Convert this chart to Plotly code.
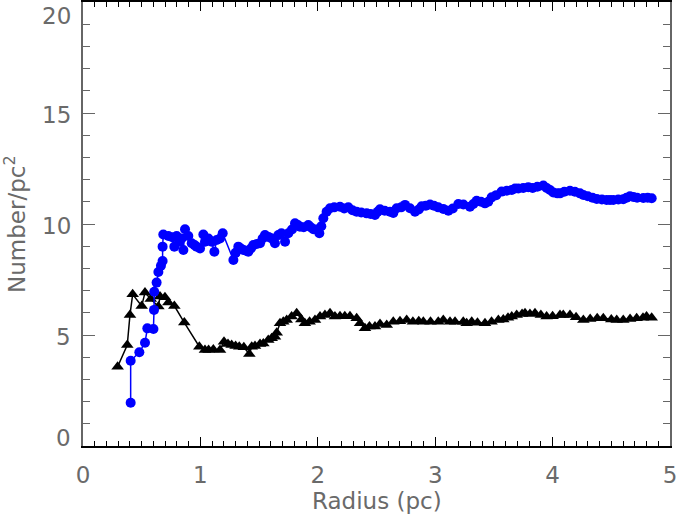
import plotly.graph_objects as go

# blue series (circles): radius in pc, number per pc^2
blue_r = [0.406, 0.406, 0.48, 0.528, 0.548, 0.600, 0.605, 0.607, 0.627, 0.642,
          0.664, 0.678, 0.678, 0.684, 0.727, 0.760, 0.778, 0.798, 0.818, 0.840,
          0.855, 0.869, 0.897, 0.926, 0.950, 0.968, 0.997, 1.025, 1.039, 1.068,
          1.096, 1.119, 1.139, 1.167, 1.190, 1.281, 1.300, 1.323, 1.345, 1.366,
          1.390, 1.408, 1.430, 1.451, 1.480, 1.508, 1.530, 1.550, 1.580, 1.607,
          1.635, 1.664, 1.690, 1.721, 1.749, 1.780, 1.806, 1.830, 1.848, 1.880,
          1.919, 1.940, 1.962, 1.990, 2.013, 2.030, 2.047, 2.075, 2.104, 2.140,
          2.189, 2.225, 2.260, 2.295, 2.331, 2.370, 2.416, 2.450, 2.487, 2.510,
          2.530, 2.570, 2.615, 2.643, 2.672, 2.710, 2.743, 2.785, 2.828, 2.860,
          2.885, 2.920, 2.956, 2.990, 3.026, 3.069, 3.112, 3.150, 3.197, 3.240,
          3.296, 3.325, 3.353, 3.390, 3.424, 3.452, 3.481, 3.520, 3.566, 3.610,
          3.652, 3.680, 3.708, 3.750, 3.793, 3.830, 3.870, 3.921, 3.950, 3.978,
          4.006, 4.040, 4.063, 4.100, 4.148, 4.190, 4.233, 4.262, 4.300, 4.340,
          4.376, 4.420, 4.460, 4.489, 4.517, 4.560, 4.602, 4.630, 4.659, 4.688,
          4.720, 4.773, 4.810, 4.844]
blue_n = [1.95, 3.84, 4.22, 4.65, 5.30, 5.27, 6.13, 6.95, 7.36, 7.84,
          8.12, 8.33, 8.98, 9.53, 9.46, 9.40, 8.98, 9.46, 9.20, 9.35,
          8.83, 9.76, 9.46, 9.13, 9.05, 8.98, 8.90, 9.53, 9.20, 9.35,
          9.20, 8.75, 9.28, 9.35, 9.58, 8.38, 8.70, 8.98, 8.90, 8.83,
          8.80, 8.75, 8.90, 9.05, 9.10, 9.13, 9.35, 9.50, 9.42, 9.35,
          9.13, 9.50, 9.58, 9.20, 9.58, 9.75, 10.03, 9.95, 9.88, 9.85,
          9.95, 9.85, 9.76, 9.75, 9.58, 9.90, 10.26, 10.55, 10.71, 10.75,
          10.78, 10.70, 10.75, 10.62, 10.55, 10.52, 10.48, 10.45, 10.41, 10.55,
          10.66, 10.60, 10.55, 10.50, 10.71, 10.75, 10.86, 10.71, 10.55, 10.65,
          10.80, 10.82, 10.88, 10.82, 10.75, 10.68, 10.60, 10.70, 10.90, 10.88,
          10.78, 10.90, 11.05, 11.00, 10.93, 11.00, 11.20, 11.30, 11.46, 11.50,
          11.53, 11.60, 11.60, 11.62, 11.66, 11.62, 11.68, 11.73, 11.62, 11.53,
          11.42, 11.38, 11.38, 11.45, 11.50, 11.45, 11.38, 11.31, 11.25, 11.18,
          11.13, 11.10, 11.08, 11.08, 11.08, 11.10, 11.12, 11.18, 11.25, 11.22,
          11.18, 11.17, 11.18, 11.16]

# black series (triangles)
black_r = [0.295, 0.377, 0.400, 0.423, 0.500, 0.528, 0.577, 0.642, 0.656, 0.698,
           0.727, 0.778, 0.863, 0.991, 1.039, 1.070, 1.110, 1.167, 1.201, 1.235,
           1.266, 1.300, 1.331, 1.370, 1.417, 1.437, 1.465, 1.508, 1.536, 1.578,
           1.607, 1.635, 1.650, 1.678, 1.706, 1.735, 1.777, 1.820, 1.860, 1.890,
           1.930, 1.976, 2.019, 2.061, 2.104, 2.146, 2.189, 2.230, 2.274, 2.331,
           2.360, 2.402, 2.440, 2.487, 2.530, 2.587, 2.643, 2.700, 2.757, 2.810,
           2.860, 2.899, 2.960, 3.026, 3.069, 3.126, 3.169, 3.239, 3.268, 3.311,
           3.360, 3.424, 3.480, 3.538, 3.580, 3.620, 3.652, 3.694, 3.740, 3.765,
           3.807, 3.850, 3.900, 3.949, 4.000, 4.063, 4.091, 4.148, 4.200, 4.262,
           4.320, 4.380, 4.432, 4.500, 4.546, 4.602, 4.660, 4.716, 4.770, 4.800,
           4.844]
black_n = [3.57, 4.55, 5.90, 6.83, 6.31, 6.91, 6.62, 6.28, 6.73, 6.70,
           6.46, 6.31, 5.56, 4.47, 4.32, 4.32, 4.35, 4.32, 4.70, 4.60,
           4.55, 4.50, 4.47, 4.45, 4.14, 4.47, 4.50, 4.60, 4.62, 4.77,
           4.85, 4.92, 5.10, 5.53, 5.60, 5.68, 5.83, 5.98, 5.70, 5.53,
           5.60, 5.68, 5.83, 5.90, 5.98, 5.83, 5.85, 5.85, 5.85, 5.75,
           5.53, 5.30, 5.38, 5.38, 5.50, 5.45, 5.60, 5.62, 5.68, 5.60,
           5.62, 5.60, 5.60, 5.60, 5.68, 5.60, 5.60, 5.60, 5.53, 5.60,
           5.55, 5.53, 5.60, 5.68, 5.70, 5.78, 5.83, 5.90, 5.95, 5.98,
           5.95, 5.98, 5.90, 5.83, 5.85, 5.90, 5.90, 5.90, 5.80, 5.68,
           5.72, 5.75, 5.75, 5.70, 5.68, 5.68, 5.72, 5.75, 5.78, 5.83,
           5.78]

x_ticks = [0, 1, 2, 3, 4, 5]
y_ticks = [0, 5, 10, 15, 20]

font = dict(family="DejaVu Sans", size=23, color="#6a6a6a")

fig = go.Figure()

fig.add_trace(go.Scatter(
    x=black_r, y=black_n, mode="lines+markers",
    line=dict(color="black", width=1.5),
    marker=dict(symbol="triangle-up", size=11, color="black"),
    showlegend=False
))

fig.add_trace(go.Scatter(
    x=blue_r, y=blue_n, mode="lines+markers",
    line=dict(color="#0000ff", width=1.5),
    marker=dict(symbol="circle", size=10, color="#0000ff"),
    showlegend=False
))

fig.update_xaxes(
    range=[0, 5], tickvals=x_ticks, ticktext=[str(t) for t in x_ticks],
    ticks="inside", ticklen=9, tickwidth=1, tickcolor="black",
    minor=dict(dtick=0.1, ticks="inside", ticklen=5, tickcolor="black", tickwidth=1),
    showline=True, linecolor="black", linewidth=1.5, mirror="ticks",
    showgrid=False, zeroline=False, automargin=False,
    tickfont=font, ticklabelstandoff=8,
)

fig.update_yaxes(
    range=[0, 20], tickvals=y_ticks,
    ticks="inside", ticklen=12, tickwidth=1, tickcolor="#666666",
    minor=dict(dtick=1, ticks="inside", ticklen=7, tickcolor="#666666", tickwidth=1),
    showline=True, linecolor="#666666", linewidth=1.5, mirror="ticks",
    showgrid=False, zeroline=False, automargin=False,
    showticklabels=False,
)

# y tick labels: end labels are pulled inside the frame as in the original
for v in y_ticks:
    if v == y_ticks[-1]:
        anchor, shift = "top", 1
    elif v == y_ticks[0]:
        anchor, shift = "middle", 8
    else:
        anchor, shift = "middle", -2
    fig.add_annotation(
        x=0, xref="paper", xanchor="right", xshift=-10,
        y=v, yref="y", yanchor=anchor, yshift=shift,
        text=str(v), showarrow=False, font=font
    )

fig.add_annotation(
    x=0.5, xref="paper", xanchor="center",
    y=0, yref="paper", yanchor="top", yshift=-40,
    text="Radius (pc)", showarrow=False, font=font
)
fig.add_annotation(
    x=0, xref="paper", xanchor="center", xshift=-68,
    y=10, yref="y", yanchor="middle",
    text="Number/pc<sup>2</sup>", textangle=-90, showarrow=False, font=font
)

fig.update_layout(
    width=678, height=521,
    margin=dict(l=83, r=8, t=2, b=75),
    plot_bgcolor="white", paper_bgcolor="white",
)

# drop the default page margin so the figure sits at the window origin
fig.write_html("out.html", config={"displayModeBar": False},
               post_script="document.body.style.margin='0px';")
